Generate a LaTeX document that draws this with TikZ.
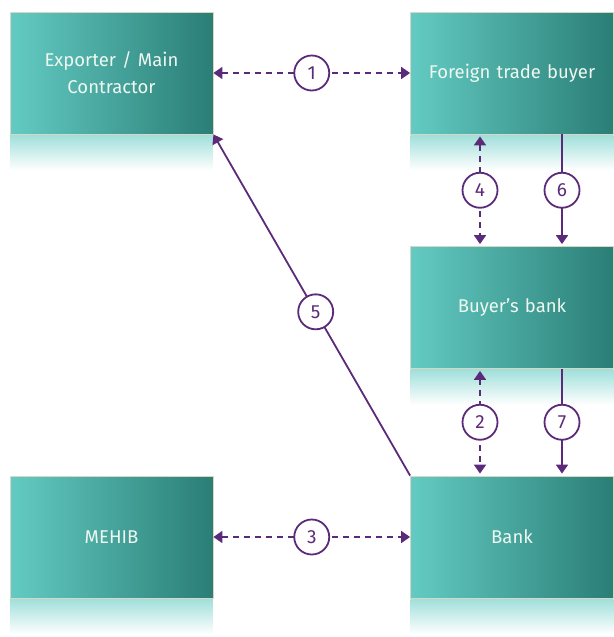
\documentclass[tikz,border=0pt]{standalone}
\usepackage{fontspec}
\setmainfont{Fira Sans}
\usetikzlibrary{arrows.meta,positioning,calc}
\definecolor{tealL}{HTML}{63CBC3}
\definecolor{tealD}{HTML}{2A7E76}
\definecolor{boxedge}{HTML}{D9D6C2}
\definecolor{flowpurple}{HTML}{5B2A79}
\definecolor{boxtext}{HTML}{EEF8F0}
\tikzset{
  % Parties of the deal
  party node/.style={rectangle, draw=boxedge, line width=0.8pt, left color=tealL, right color=tealD,
    minimum width=203pt, minimum height=122pt, inner sep=0pt, text width=190pt, align=center,
    text=boxtext, font=\fontsize{18.5}{27}\selectfont},
  % Numbered steps
  num node/.style={circle, draw=flowpurple, solid, line width=1.8pt, fill=white, minimum size=35pt,
    inner sep=0pt, text=flowpurple, font=\fontsize{19}{20}\selectfont},
  % Flows
  flow/.style={draw=flowpurple, line width=1.8pt, -{Triangle[width=12pt,length=9pt]}},
  twoway/.style={flow, {Triangle[width=12pt,length=9pt]}-{Triangle[width=12pt,length=9pt]},
    dash pattern=on 6pt off 5pt},
  mirror/.style={top color=tealL!60!white, bottom color=white},
}

\begin{document}
\begin{tikzpicture}[x=1pt, y=-1pt]
\useasboundingbox (0,0) rectangle (613,637);

% Parties
\node[party node] (exp) at (111.5,73) {Exporter / Main\\Contractor};
\node[party node] (ftb) at (512,73) {Foreign trade buyer};
\node[party node] (bbk) at (512,307.5) {Buyer's bank};
\node[party node] (mhb) at (111.5,537) {MEHIB};
\node[party node] (bnk) at (512,537) {Bank};

% Reflections under the boxes
\foreach \n in {exp,ftb,bbk,mhb,bnk}
  \shade[mirror] ($(\n.south west)+(0.5,1)$) rectangle ($(\n.south east)+(-0.5,36)$);

% Two-way flows
\draw[twoway] (exp.east) -- (ftb.west) node[num node, midway] {1};
\draw[twoway] (mhb.east) -- (bnk.west) node[num node, midway] {3};
\draw[twoway, shorten >=2pt, shorten <=2pt] ([xshift=-32pt]ftb.south) -- ([xshift=-32pt]bbk.north) node[num node, midway] {4};
\draw[twoway, shorten >=2pt, shorten <=2pt] ([xshift=-32pt]bbk.south) -- ([xshift=-32pt]bnk.north) node[num node, midway] {2};

% One-way flows
\draw[flow, shorten >=2pt] ([xshift=50pt]ftb.south) -- ([xshift=50pt]bbk.north) node[num node, midway] {6};
\draw[flow, shorten >=2pt] ([xshift=50pt]bbk.south) -- ([xshift=50pt]bnk.north) node[num node, midway] {7};
\draw[flow] (bnk.north west) -- (exp.south east) node[num node, pos=0.48] {5};
\end{tikzpicture}
\end{document}
